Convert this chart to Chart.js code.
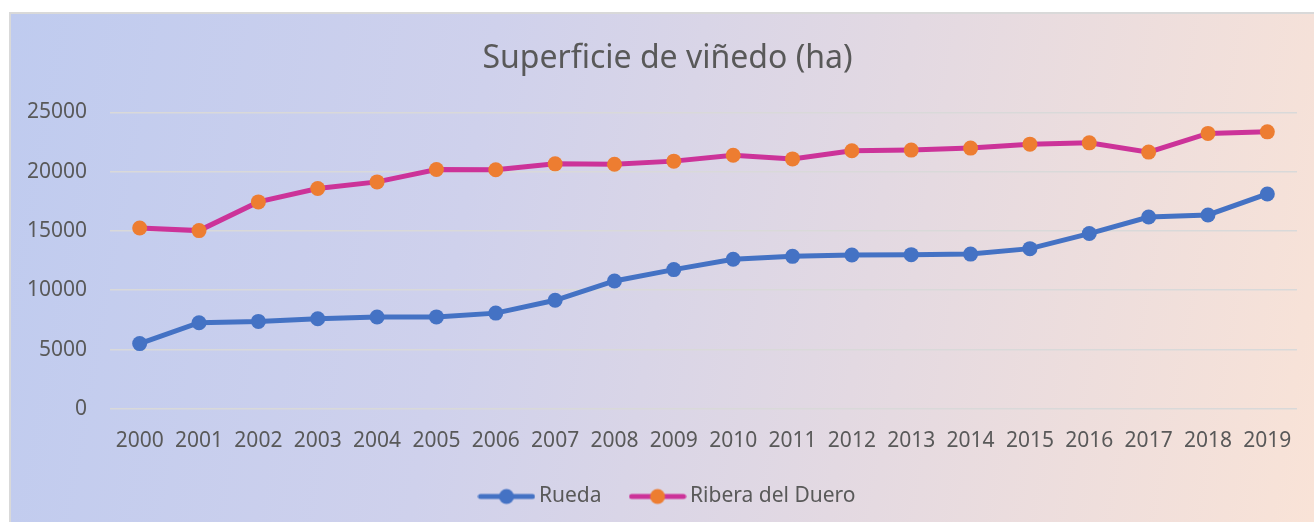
<!DOCTYPE html>
<html>
<head>
<meta charset="utf-8">
<script src="https://cdn.jsdelivr.net/npm/chart.js@4.4.1/dist/chart.umd.min.js"></script>
<style>
  html, body { margin: 0; padding: 0; background: #ffffff; }
  #frame {
    position: absolute; left: 9px; top: 12px; width: 1305px; height: 510px;
    box-sizing: border-box; border-left: 2px solid #d9d9d9; border-top: 2px solid #d9d9d9;
    background: linear-gradient(100deg, #bfcbef 0%, #cfd1ec 35%, #e3d9e2 65%, #f9e3d7 100%);
  }
  #wrap { position: absolute; left: 0; top: 0; width: 1314px; height: 522px; }
</style>
</head>
<body>
<div id="frame"></div>
<div id="wrap"><canvas id="c" width="1314" height="522"></canvas></div>
<script>
const years = ["2000","2001","2002","2003","2004","2005","2006","2007","2008","2009","2010","2011","2012","2013","2014","2015","2016","2017","2018","2019"];
const rueda = [5500, 7260, 7370, 7600, 7740, 7750, 8070, 9150, 10780, 11740, 12610, 12860, 12970, 13000, 13050, 13510, 14780, 16180, 16350, 18120];
const ribera = [15250, 15030, 17450, 18580, 19140, 20180, 20160, 20660, 20630, 20890, 21390, 21080, 21760, 21820, 21990, 22320, 22430, 21650, 23230, 23360];
const yTicks = [0, 5000, 10000, 15000, 20000, 25000];

const FONT = "'Noto Sans', 'DejaVu Sans', sans-serif";
const TXT = "#595959";

function legendIcon(lineColor, dotColor) {
  const c = document.createElement('canvas');
  c.width = 58; c.height = 18;
  const x = c.getContext('2d');
  x.strokeStyle = lineColor; x.lineWidth = 5; x.lineCap = 'round';
  x.beginPath(); x.moveTo(3, 9); x.lineTo(55, 9); x.stroke();
  x.fillStyle = dotColor;
  x.beginPath(); x.arc(29, 9, 7.5, 0, Math.PI * 2); x.fill();
  return c;
}
const icons = [legendIcon('#4472c4', '#4472c4'), legendIcon('#cc3399', '#ed7d31')];

// shift the centred title and legend slightly right to match the reference
const shiftBlocks = {
  id: 'shiftBlocks',
  afterLayout(chart) {
    if (chart.titleBlock) { chart.titleBlock.left += 12; }
    if (chart.legend) { chart.legend.left += 17; }
  }
};

new Chart(document.getElementById('c'), {
  type: 'line',
  data: {
    labels: years,
    datasets: [
      { label: 'Rueda', data: rueda, borderColor: '#4472c4', backgroundColor: '#4472c4',
        pointBackgroundColor: '#4472c4', pointBorderColor: '#4472c4', borderWidth: 5,
        pointRadius: 7.5, pointHoverRadius: 7.5, pointBorderWidth: 0, tension: 0 },
      { label: 'Ribera del Duero', data: ribera, borderColor: '#cc3399', backgroundColor: '#ed7d31',
        pointBackgroundColor: '#ed7d31', pointBorderColor: '#ed7d31', borderWidth: 5,
        pointRadius: 7.5, pointHoverRadius: 7.5, pointBorderWidth: 0, tension: 0 }
    ]
  },
  plugins: [shiftBlocks],
  options: {
    responsive: false,
    animation: false,
    layout: { padding: { left: 26, right: 17, top: 0, bottom: 5 } },
    plugins: {
      tooltip: { enabled: false },
      title: {
        display: true, text: 'Superficie de viñedo (ha)', color: TXT,
        font: { family: FONT, size: 32, weight: 'normal' },
        padding: { top: 40, bottom: 34 }
      },
      legend: {
        position: 'bottom',
        labels: {
          color: TXT, font: { family: FONT, size: 21 },
          usePointStyle: true, pointStyleWidth: 44, padding: 34,
          generateLabels: (chart) => chart.data.datasets.map((d, i) => ({
            text: d.label, fillStyle: d.backgroundColor, strokeStyle: d.borderColor,
            pointStyle: icons[i], datasetIndex: i, hidden: false, lineWidth: 0, fontColor: TXT
          }))
        }
      }
    },
    scales: {
      x: {
        offset: true,
        grid: { display: false, drawTicks: false },
        border: { display: false },
        ticks: { color: TXT, font: { family: FONT, size: 21 }, padding: 20, maxRotation: 0, autoSkip: false },
        afterFit: (axis) => { axis.height -= 22; }
      },
      y: {
        min: 0, max: 25000,
        afterBuildTicks: (axis) => { axis.ticks = yTicks.map(v => ({ value: v })); },
        afterFit: (axis) => { axis.width = 84; },
        grid: { color: '#d9d9d9', lineWidth: 1.5, drawTicks: false },
        border: { display: false },
        ticks: { color: TXT, font: { family: FONT, size: 21 }, padding: 23,
          callback: (v) => String(v) }
      }
    }
  }
});
</script>
</body>
</html>
